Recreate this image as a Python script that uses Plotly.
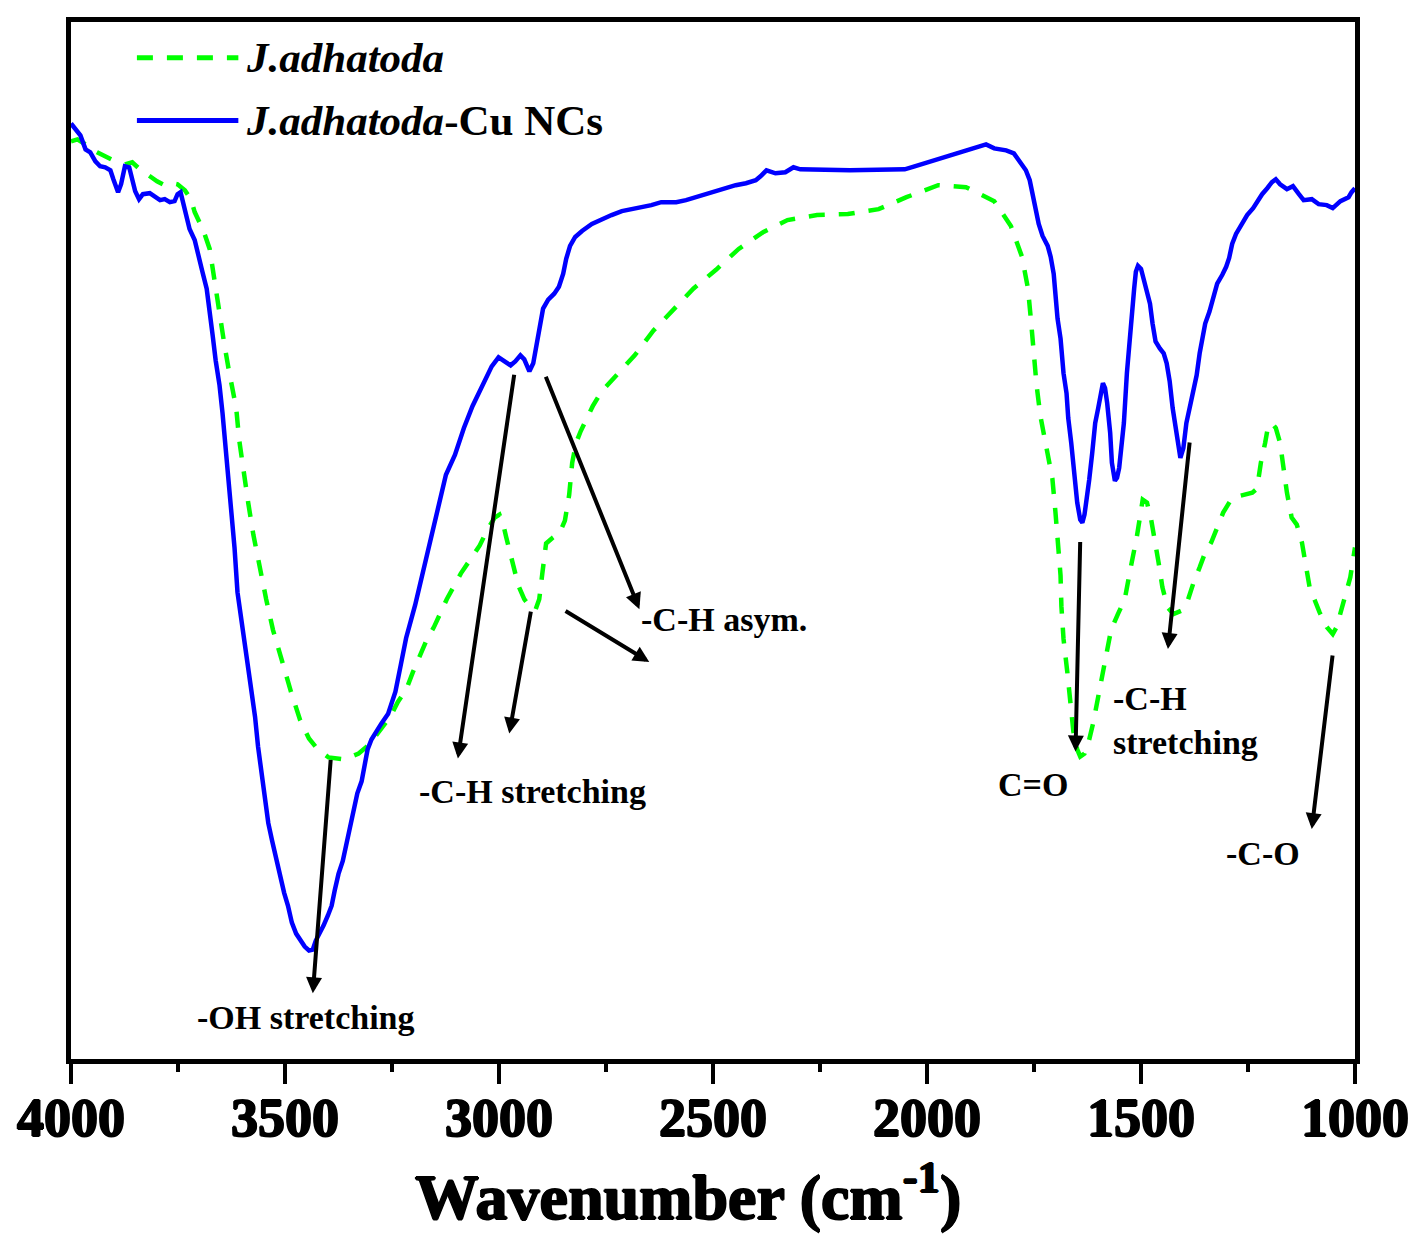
import plotly.graph_objects as go

# ---------------- data (wavenumber cm^-1, transmittance a.u.) ----------------
wn_cu = [4000, 3990, 3978, 3966, 3955, 3943, 3932, 3920, 3908, 3901, 3894, 3890, 3883, 3878, 3874,
         3864, 3857, 3850, 3841, 3832, 3816, 3804, 3792, 3781, 3769, 3758, 3751, 3744, 3737, 3730,
         3723, 3711, 3702, 3693, 3683, 3676, 3669, 3662, 3653, 3646, 3637, 3628, 3618, 3611, 3604,
         3595, 3586, 3577, 3570, 3563, 3553, 3546, 3539, 3530, 3521, 3512, 3502, 3493, 3484, 3474,
         3463, 3454, 3444, 3435, 3428, 3419, 3410, 3400, 3391, 3384, 3375, 3365, 3358, 3349, 3340,
         3331, 3321, 3314, 3307, 3298, 3289, 3275, 3259, 3242, 3229, 3217, 3196, 3182, 3171, 3157,
         3143, 3124, 3103, 3082, 3062, 3039, 3017, 3001, 2985, 2973, 2962, 2950, 2941, 2929, 2920,
         2913, 2906, 2897, 2885, 2871, 2860, 2850, 2843, 2834, 2822, 2806, 2783, 2760, 2737, 2713,
         2690, 2667, 2644, 2621, 2586, 2563, 2540, 2516, 2493, 2470, 2447, 2423, 2400, 2389, 2375,
         2354, 2331, 2312, 2296, 2180, 2052, 2029, 1999, 1971, 1936, 1906, 1882, 1862, 1843, 1815,
         1797, 1783, 1769, 1760, 1753, 1746, 1739, 1730, 1718, 1711, 1704, 1700, 1695, 1688, 1681,
         1674, 1670, 1663, 1656, 1649, 1642, 1637, 1632, 1628, 1621, 1614, 1607, 1600, 1593, 1589,
         1584, 1579, 1572, 1568, 1561, 1556, 1551, 1547, 1540, 1533, 1526, 1521, 1516, 1512, 1507,
         1500, 1493, 1486, 1479, 1473, 1466, 1456, 1447, 1440, 1433, 1426, 1417, 1412, 1408, 1401,
         1394, 1384, 1377, 1370, 1363, 1357, 1350, 1340, 1331, 1322, 1310, 1301, 1294, 1287, 1278,
         1266, 1252, 1238, 1229, 1217, 1205, 1194, 1185, 1175, 1159, 1145, 1131, 1120, 1101, 1085,
         1066, 1052, 1034, 1015, 1008, 1000]
t_cu = [94.0, 93.5, 92.8, 91.4, 91.1, 90.2, 89.7, 89.6, 89.3, 88.4, 87.4, 87.1, 87.9, 88.9, 89.7,
        89.6, 88.4, 87.2, 86.4, 86.9, 87.0, 86.7, 86.3, 86.4, 86.1, 86.2, 86.9, 87.1, 85.9, 84.4,
        83.4, 82.3, 80.9, 79.1, 77.4, 75.4, 72.7, 70.2, 67.7, 64.9, 60.9, 56.9, 51.4, 46.9, 44.7,
        41.9, 39.4, 36.9, 34.4, 31.4, 27.9, 25.4, 23.7, 21.9, 20.1, 18.4, 16.7, 15.4, 13.7, 12.6,
        11.9, 11.3, 10.9, 11.0, 11.9, 12.6, 13.4, 14.4, 15.4, 16.9, 18.6, 19.9, 21.4, 23.1, 25.1,
        26.7, 27.9, 29.4, 31.1, 32.1, 32.8, 33.7, 34.7, 36.9, 39.7, 42.3, 45.6, 48.1, 50.4, 52.7,
        55.0, 58.7, 60.7, 63.4, 65.6, 67.7, 69.6, 70.5, 70.1, 69.7, 70.1, 70.7, 70.3, 69.1, 69.9,
        71.7, 73.7, 75.4, 76.3, 76.9, 77.6, 78.9, 80.4, 81.7, 82.6, 83.2, 83.9, 84.4, 84.8, 85.2,
        85.4, 85.5, 85.8, 86.1, 86.1, 86.3, 86.6, 86.8, 87.1, 87.5, 87.8, 88.0, 88.3, 88.7, 89.3,
        89.0, 89.1, 89.6, 89.4, 89.3, 89.4, 89.7, 90.1, 90.4, 90.9, 91.3, 91.7, 91.9, 91.5, 91.3,
        91.0, 90.2, 89.3, 88.3, 86.9, 85.4, 83.9, 82.7, 81.7, 80.6, 78.9, 76.9, 74.4, 72.4, 68.9,
        66.9, 64.4, 61.9, 58.4, 55.9, 54.2, 53.9, 54.7, 55.9, 58.2, 60.9, 63.9, 65.4, 67.4, 67.9,
        67.4, 65.9, 62.9, 59.9, 58.1, 58.4, 59.4, 60.9, 63.9, 68.9, 72.9, 75.9, 77.4, 79.1, 79.7,
        79.4, 78.1, 76.9, 75.9, 73.9, 72.1, 71.4, 70.9, 69.9, 68.1, 65.4, 62.9, 60.9, 60.4, 61.4,
        63.9, 65.9, 67.1, 68.7, 70.9, 72.4, 73.9, 75.1, 76.7, 77.9, 78.8, 79.6, 80.5, 81.9, 82.9,
        83.8, 84.8, 85.5, 86.2, 86.9, 87.5, 88.1, 88.4, 87.9, 87.4, 87.7, 86.9, 86.3, 86.4, 85.9,
        85.8, 85.5, 86.2, 86.6, 87.1, 87.5]

wn_ja = [4000, 3985, 3966, 3952, 3939, 3920, 3897, 3874, 3857, 3839, 3816, 3799, 3781, 3762, 3751,
         3734, 3720, 3711, 3700, 3688, 3676, 3667, 3658, 3651, 3642, 3632, 3623, 3614, 3607, 3597,
         3586, 3574, 3560, 3544, 3528, 3507, 3486, 3465, 3444, 3423, 3398, 3361, 3328, 3303, 3275,
         3254, 3236, 3217, 3201, 3185, 3169, 3152, 3122, 3089, 3066, 3045, 3027, 3010, 2999, 2990,
         2983, 2973, 2966, 2955, 2941, 2927, 2915, 2906, 2899, 2890, 2874, 2858, 2846, 2836, 2829,
         2820, 2809, 2781, 2760, 2732, 2683, 2639, 2588, 2546, 2493, 2440, 2382, 2326, 2257, 2185,
         2113, 2048, 1974, 1909, 1843, 1804, 1778, 1764, 1757, 1751, 1744, 1735, 1721, 1707, 1700,
         1695, 1688, 1686, 1681, 1672, 1665, 1658, 1649, 1642, 1632, 1621, 1612, 1598, 1584, 1570,
         1554, 1538, 1524, 1510, 1496, 1486, 1477, 1468, 1459, 1450, 1438, 1424, 1403, 1392, 1377,
         1363, 1350, 1336, 1322, 1308, 1287, 1264, 1240, 1229, 1220, 1210, 1203, 1194, 1185, 1175,
         1168, 1159, 1148, 1136, 1124, 1115, 1106, 1094, 1083, 1066, 1052, 1043, 1032, 1020, 1011,
         1000]
t_ja = [92.2, 92.4, 91.9, 91.4, 91.1, 90.7, 90.2, 89.9, 90.1, 89.4, 88.7, 88.2, 87.8, 88.0, 87.9,
        87.3, 86.4, 85.1, 84.1, 82.9, 81.4, 78.7, 76.4, 74.4, 71.9, 69.4, 67.4, 65.4, 62.2, 59.0,
        55.9, 52.7, 49.4, 46.2, 43.1, 39.9, 36.9, 34.1, 32.2, 31.1, 30.3, 30.1, 30.7, 31.6, 33.1,
        34.4, 35.9, 37.1, 38.9, 40.4, 42.1, 43.4, 46.2, 48.8, 50.3, 51.6, 53.2, 54.4, 54.7, 53.7,
        52.4, 50.7, 49.3, 47.6, 46.2, 45.4, 45.1, 46.2, 48.7, 51.8, 52.4, 52.9, 54.1, 56.7, 59.9,
        61.9, 63.1, 65.6, 67.1, 68.4, 70.7, 73.2, 75.5, 77.4, 79.3, 81.4, 83.1, 84.3, 84.8, 84.9,
        85.4, 86.6, 87.8, 87.6, 86.2, 83.7, 80.6, 77.4, 74.2, 70.9, 67.7, 64.6, 61.4, 58.3, 55.0,
        51.8, 48.6, 45.5, 42.2, 38.8, 35.8, 32.9, 31.1, 30.4, 30.7, 32.1, 33.7, 37.0, 40.1, 43.1,
        44.7, 46.2, 49.4, 52.4, 56.2, 55.9, 54.4, 52.4, 49.9, 47.4, 45.4, 44.7, 45.1, 45.9, 47.9,
        49.4, 50.9, 51.9, 53.4, 54.9, 56.4, 56.7, 56.9, 57.3, 59.9, 61.9, 63.6, 63.9, 63.4, 61.9,
        59.4, 56.9, 54.4, 53.7, 51.9, 49.4, 47.4, 46.1, 44.9, 43.4, 42.7, 43.4, 45.1, 46.9, 48.4,
        51.4]

tick_vals = [4000, 3500, 3000, 2500, 2000, 1500, 1000]
tick_text = ["4000", "3500", "3000", "2500", "2000", "1500", "1000"]

series_names = ["<i>J.adhatoda</i>", "<i>J.adhatoda</i>-Cu NCs"]
x_title = "Wavenumber (cm<sup>-1</sup>)"

# peak labels (text position in data coords)
label_text = ["-OH stretching", "-C-H stretching", "-C-H asym.", "C=O",
              "-C-H<br>stretching", "-C-O"]
label_x = [3451, 2922, 2674, 1752, 1570, 1215]
label_y = [4.2, 26.9, 44.2, 27.6, 34.0, 20.6]
label_anchor = ["center", "center", "left", "center", "left", "center"]

# arrows: tail (x, y) -> tip (x, y)
arrow_tail_x = [3393, 2964, 2925, 2892, 2848, 1642, 1386, 1052]
arrow_tail_y = [30.2, 68.9, 45.1, 68.7, 45.1, 52.1, 62.1, 40.7]
arrow_tip_x = [3435, 3096, 2976, 2672, 2649, 1653, 1437, 1101]
arrow_tip_y = [6.6, 30.2, 32.7, 45.2, 39.9, 30.9, 41.2, 23.1]

# manual legend geometry (data coords)
legend_x0, legend_x1, legend_text_x = 3846, 3609, 3595
legend_y = [100.6, 94.3]

# ---------------- figure ----------------
GREEN = "#00ff00"
BLUE = "#0000ff"
DASH = "16px,14px"
SERIF = "Liberation Serif"
HEAVY = "1px 0px 0px black, -1px 0px 0px black, 0px 1px 0px black, 0px -1px 0px black"

fig = go.Figure()
fig.add_trace(go.Scatter(x=wn_ja, y=t_ja, mode="lines", name=series_names[0],
                         line=dict(color=GREEN, width=4.5, dash=DASH), showlegend=False))
fig.add_trace(go.Scatter(x=wn_cu, y=t_cu, mode="lines", name=series_names[1],
                         line=dict(color=BLUE, width=4.5), showlegend=False))

annotations = []
for tx, ty, hx, hy in zip(arrow_tail_x, arrow_tail_y, arrow_tip_x, arrow_tip_y):
    annotations.append(dict(x=hx, y=hy, ax=tx, ay=ty, xref="x", yref="y", axref="x", ayref="y",
                            text="", showarrow=True, arrowhead=2, arrowsize=0.8, arrowwidth=4,
                            arrowcolor="black", standoff=0, startstandoff=0))
for txt, lx, ly, anc in zip(label_text, label_x, label_y, label_anchor):
    annotations.append(dict(x=lx, y=ly, xref="x", yref="y", text=txt, showarrow=False,
                            xanchor=anc, yanchor="middle", align="left",
                            font=dict(family=SERIF, size=34, color="black", weight="bold")))

# legend (drawn manually to match long sample lines)
shapes = [
    dict(type="line", xref="x", yref="y", x0=legend_x0, x1=legend_x1, y0=legend_y[0], y1=legend_y[0],
         line=dict(color=GREEN, width=5, dash=DASH)),
    dict(type="line", xref="x", yref="y", x0=legend_x0, x1=legend_x1, y0=legend_y[1], y1=legend_y[1],
         line=dict(color=BLUE, width=5)),
]
for name, ly in zip(series_names, legend_y):
    annotations.append(dict(x=legend_text_x, y=ly, xref="x", yref="y", text=name, showarrow=False,
                            xanchor="left", yanchor="middle",
                            font=dict(family=SERIF, size=43, color="black", weight="bold")))

# x-axis title as a paper-anchored annotation
annotations.append(dict(x=0.4803, y=-0.1286, xref="paper", yref="paper", text=x_title,
                        showarrow=False, xanchor="center", yanchor="middle",
                        font=dict(family=SERIF, size=64, color="black", weight="bold", shadow=HEAVY)))

fig.update_layout(
    width=1410, height=1235,
    margin=dict(l=58, r=59, t=9, b=184),
    paper_bgcolor="white", plot_bgcolor="white",
    annotations=annotations, shapes=shapes,
    showlegend=False,
)
fig.update_xaxes(
    range=[4000, 1000], tickmode="array", tickvals=tick_vals, ticktext=tick_text,
    showline=True, linewidth=5, linecolor="black", mirror=True,
    showgrid=False, zeroline=False,
    ticks="outside", ticklen=20, tickwidth=4, tickcolor="black",
    minor=dict(ticks="outside", ticklen=8, tickwidth=4, tickcolor="black", dtick=250, tick0=1000,
               showgrid=False),
    tickfont=dict(family=SERIF, size=54, color="black", weight="bold", shadow=HEAVY),
    ticklabelstandoff=-13,
)
fig.update_yaxes(
    range=[0, 104.2], showline=True, linewidth=5, linecolor="black", mirror=True,
    showgrid=False, zeroline=False, showticklabels=False, ticks="",
)

fig.write_html("out.html")
